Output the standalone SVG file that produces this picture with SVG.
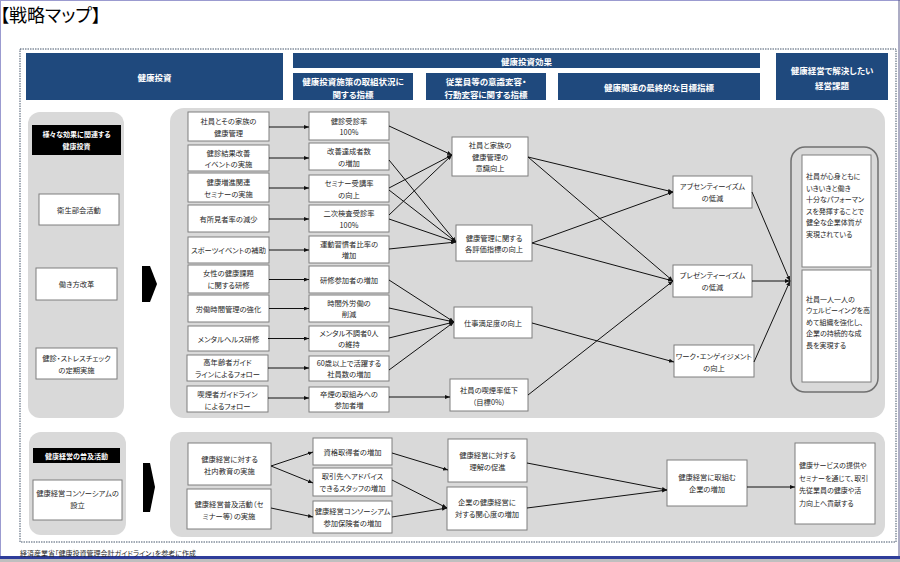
<svg xmlns="http://www.w3.org/2000/svg" width="900" height="562" viewBox="0 0 900 562">
<style>
text{font-family:"Noto Sans CJK JP","Noto Sans CJK SC",sans-serif;font-feature-settings:"palt";dominant-baseline:central}
.hdr{fill:#1f497d}
.ht{fill:#fff;font-size:8.5px;font-weight:bold;text-anchor:middle}
.panel{fill:#d9d9d9}
.box{fill:#fff;stroke:#7f7f7f;stroke-width:1}
.t{fill:#262626;font-size:7.3px;text-anchor:middle}
.tl{fill:#262626;font-size:7px;text-anchor:start}
.lbl{fill:#000}
.lt{fill:#fff;font-size:7px;font-weight:bold;text-anchor:middle}
.conn path{stroke:#111;stroke-width:1;fill:none;marker-end:url(#ah)}
</style>
<defs>
<marker id="ah" viewBox="0 0 5 4" markerWidth="5" markerHeight="4" refX="5" refY="2" orient="auto" markerUnits="userSpaceOnUse"><path d="M0,0 L5,2 L0,4 z" fill="#111"/></marker>
</defs>
<rect x="0" y="0" width="900" height="562" fill="#fff"/>
<line x1="0" y1="0.5" x2="900" y2="0.5" stroke="#9b9bd0"/>
<line x1="0.5" y1="0" x2="0.5" y2="556" stroke="#9b9bd0"/>
<line x1="899" y1="0" x2="899" y2="556" stroke="#5a5a8a"/>
<rect x="0" y="556" width="900" height="3" fill="#2e3d9a"/>
<rect x="0" y="559" width="900" height="3" fill="#bfbfbf"/>
<text x="0" y="14" style="font-size:18px;fill:#000">【戦略マップ】</text>
<rect x="20" y="49" width="876" height="493" fill="none" stroke="#44546a" stroke-width="1" stroke-dasharray="1.5 1"/>
<text x="20" y="553" class="tl" style="font-size:7px">経済産業省「健康投資管理会計ガイドライン」を参考に作成</text>

<g id="headers">
<rect class="hdr" x="26" y="53" width="257" height="47"/>
<text class="ht" x="154.5" y="76.5">健康投資</text>
<rect class="hdr" x="293" y="53" width="467" height="15"/>
<text class="ht" x="526.5" y="61">健康投資効果</text>
<rect class="hdr" x="293" y="73" width="120" height="27"/>
<text class="ht" x="353" y="81">健康投資施策の取組状況に</text>
<text class="ht" x="353" y="94">関する指標</text>
<rect class="hdr" x="426" y="73" width="120" height="27"/>
<text class="ht" x="486" y="81">従業員等の意識変容・</text>
<text class="ht" x="486" y="94">行動変容に関する指標</text>
<rect class="hdr" x="558" y="73" width="202" height="27"/>
<text class="ht" x="659" y="87">健康関連の最終的な目標指標</text>
<rect class="hdr" x="776" y="53" width="112" height="47"/>
<text class="ht" x="832" y="70">健康経営で解決したい</text>
<text class="ht" x="832" y="85">経営課題</text>
</g>

<g id="panels">
<rect class="panel" x="28" y="112" width="96" height="306" rx="12"/>
<rect class="panel" x="170" y="108" width="715" height="310" rx="14"/>
<rect class="panel" x="29" y="432" width="97" height="103" rx="12"/>
<rect class="panel" x="170" y="432" width="715" height="105" rx="12"/>
<polygon points="142,266 150,266 157,284 150,302 142,302" fill="#000"/>
<polygon points="143,463 150,463 155,487 150,512 143,512" fill="#000"/>
</g>

<g id="L0"><rect class="lbl" x="32" y="125" width="89" height="30"/><text class="lt" x="76.5" y="133.5">様々な効果に関連する</text><text class="lt" x="76.5" y="145.5">健康投資</text></g>
<g id="L1"><rect class="box" x="39" y="194" width="80" height="31"/><text class="t" x="79" y="209.5">衛生部会活動</text></g>
<g id="L2"><rect class="box" x="36" y="268" width="81" height="32"/><text class="t" x="76.5" y="284">働き方改革</text></g>
<g id="L3"><rect class="box" x="36" y="348" width="81" height="31"/><text class="t" x="76.5" y="358">健診・ストレスチェック</text><text class="t" x="76.5" y="369.5">の定期実施</text></g>

<g id="A1"><rect class="box" x="188" y="112" width="81" height="29"/><text class="t" x="228.5" y="121">社員とその家族の</text><text class="t" x="228.5" y="132.5">健康管理</text></g>
<g id="A2"><rect class="box" x="188" y="145" width="81" height="26"/><text class="t" x="228.5" y="152.5">健診結果改善</text><text class="t" x="228.5" y="164">イベントの実施</text></g>
<g id="A3"><rect class="box" x="188" y="173" width="81" height="29"/><text class="t" x="228.5" y="182">健康増進関連</text><text class="t" x="228.5" y="193.5">セミナーの実施</text></g>
<g id="A4"><rect class="box" x="188" y="205" width="81" height="27"/><text class="t" x="228.5" y="218.5">有所見者率の減少</text></g>
<g id="A5"><rect class="box" x="188" y="237" width="81" height="26"/><text class="t" x="228.5" y="250">スポーツイベントの補助</text></g>
<g id="A6"><rect class="box" x="188" y="265" width="81" height="28"/><text class="t" x="228.5" y="273">女性の健康課題</text><text class="t" x="228.5" y="284.5">に関する研修</text></g>
<g id="A7"><rect class="box" x="188" y="295" width="81" height="27"/><text class="t" x="228.5" y="308.5">労働時間管理の強化</text></g>
<g id="A8"><rect class="box" x="188" y="326" width="81" height="25"/><text class="t" x="228.5" y="338.5">メンタルヘルス研修</text></g>
<g id="A9"><rect class="box" x="187" y="355" width="81" height="26"/><text class="t" x="227.5" y="362">高年齢者ガイド</text><text class="t" x="227.5" y="374">ラインによるフォロー</text></g>
<g id="A10"><rect class="box" x="187" y="386" width="81" height="26"/><text class="t" x="227.5" y="393.5">喫煙者ガイドライン</text><text class="t" x="227.5" y="405.5">によるフォロー</text></g>

<g id="B1"><rect class="box" x="309" y="112" width="80" height="28"/><text class="t" x="349" y="121">健診受診率</text><text class="t" x="349" y="132">100%</text></g>
<g id="B2"><rect class="box" x="309" y="143" width="80" height="27"/><text class="t" x="349" y="150.5">改善達成者数</text><text class="t" x="349" y="162.5">の増加</text></g>
<g id="B3"><rect class="box" x="309" y="175" width="80" height="27"/><text class="t" x="349" y="183">セミナー受講率</text><text class="t" x="349" y="194.5">の向上</text></g>
<g id="B4"><rect class="box" x="309" y="205" width="80" height="27"/><text class="t" x="349" y="213">二次検査受診率</text><text class="t" x="349" y="224.5">100%</text></g>
<g id="B5"><rect class="box" x="309" y="236" width="80" height="27"/><text class="t" x="349" y="243.5">運動習慣者比率の</text><text class="t" x="349" y="255">増加</text></g>
<g id="B6"><rect class="box" x="309" y="266" width="80" height="27"/><text class="t" x="349" y="279.5">研修参加者の増加</text></g>
<g id="B7"><rect class="box" x="309" y="295" width="80" height="27"/><text class="t" x="349" y="303">時間外労働の</text><text class="t" x="349" y="314">削減</text></g>
<g id="B8"><rect class="box" x="309" y="326" width="80" height="25"/><text class="t" x="349" y="333">メンタル不調者0人</text><text class="t" x="349" y="344">の維持</text></g>
<g id="B9"><rect class="box" x="309" y="356" width="80" height="25"/><text class="t" x="349" y="362.5">60歳以上で活躍する</text><text class="t" x="349" y="374">社員数の増加</text></g>
<g id="B10"><rect class="box" x="309" y="387" width="80" height="25"/><text class="t" x="349" y="393.5">卒煙の取組みへの</text><text class="t" x="349" y="405">参加者増</text></g>

<g id="C1"><rect class="box" x="452" y="137" width="76" height="39"/><text class="t" x="490" y="145">社員と家族の</text><text class="t" x="490" y="156.5">健康管理の</text><text class="t" x="490" y="168">意識向上</text></g>
<g id="C2"><rect class="box" x="456" y="225" width="76" height="36"/><text class="t" x="494" y="237.5">健康管理に関する</text><text class="t" x="494" y="249">各評価指標の向上</text></g>
<g id="C3"><rect class="box" x="454" y="307" width="78" height="31"/><text class="t" x="493" y="322.5">仕事満足度の向上</text></g>
<g id="C4"><rect class="box" x="450" y="379" width="78" height="32"/><text class="t" x="489" y="390">社員の喫煙率低下</text><text class="t" x="489" y="402">（目標0%）</text></g>

<g id="D1"><rect class="box" x="673" y="176" width="79" height="32"/><text class="t" x="712.5" y="186">アブセンティーイズム</text><text class="t" x="712.5" y="198">の低減</text></g>
<g id="D2"><rect class="box" x="673" y="265" width="79" height="32"/><text class="t" x="712.5" y="275">プレゼンティーイズム</text><text class="t" x="712.5" y="287">の低減</text></g>
<g id="D3"><rect class="box" x="674" y="345" width="80" height="32"/><text class="t" x="714" y="356">ワーク・エンゲイジメント</text><text class="t" x="714" y="367.5">の向上</text></g>

<g id="E">
<rect x="791" y="147" width="87" height="245" rx="14" fill="#d9d9d9" stroke="#707070" stroke-width="1.5"/>
<g id="E1"><rect class="box" x="802" y="155" width="69" height="112"/>
<text class="tl" x="806" y="176">社員が心身ともに</text><text class="tl" x="806" y="187.6">いきいきと働き</text><text class="tl" x="806" y="199.2">十分なパフォーマン</text><text class="tl" x="806" y="210.8">スを発揮することで</text><text class="tl" x="806" y="222.4">健全な企業体質が</text><text class="tl" x="806" y="234">実現されている</text></g>
<g id="E2"><rect class="box" x="802" y="270" width="69" height="112"/>
<text class="tl" x="806" y="298.5">社員一人一人の</text><text class="tl" x="806" y="310">ウェルビーイングを高</text><text class="tl" x="806" y="321.5">めて組織を強化し、</text><text class="tl" x="806" y="333">企業の持続的な成</text><text class="tl" x="806" y="344.5">長を実現する</text></g>
</g>

<g id="L4"><rect class="lbl" x="33" y="448" width="87" height="15"/><text class="lt" x="76.5" y="455.5">健康経営の普及活動</text></g>
<g id="L5"><rect class="box" x="33" y="480" width="89" height="40"/><text class="t" x="77.5" y="493">健康経営コンソーシアムの</text><text class="t" x="77.5" y="505">設立</text></g>

<g id="F1"><rect class="box" x="188" y="443" width="83" height="42"/><text class="t" x="229.5" y="459">健康経営に対する</text><text class="t" x="229.5" y="470.5">社内教育の実施</text></g>
<g id="F2"><rect class="box" x="187" y="489" width="84" height="40"/><text class="t" x="229" y="504">健康経営普及活動（セ</text><text class="t" x="229" y="515.5">ミナー等）の実施</text></g>
<g id="G1"><rect class="box" x="313" y="438" width="79" height="27"/><text class="t" x="352.5" y="451.5">資格取得者の増加</text></g>
<g id="G2"><rect class="box" x="313" y="468" width="79" height="28"/><text class="t" x="352.5" y="476">取引先へアドバイス</text><text class="t" x="352.5" y="488">できるスタッフの増加</text></g>
<g id="G3"><rect class="box" x="313" y="501" width="79" height="32"/><text class="t" x="352.5" y="511">健康経営コンソーシアム</text><text class="t" x="352.5" y="522.5">参加保険者の増加</text></g>
<g id="H1"><rect class="box" x="448" y="439" width="79" height="43"/><text class="t" x="487.5" y="454.5">健康経営に対する</text><text class="t" x="487.5" y="466.5">理解の促進</text></g>
<g id="H2"><rect class="box" x="447" y="487" width="80" height="43"/><text class="t" x="487" y="502">企業の健康経営に</text><text class="t" x="487" y="514">対する関心度の増加</text></g>
<g id="I1"><rect class="box" x="667" y="460" width="80" height="46"/><text class="t" x="707" y="477">健康経営に取組む</text><text class="t" x="707" y="489">企業の増加</text></g>
<g id="J1"><rect class="box" x="795" y="443" width="80" height="81"/><text class="tl" x="799" y="465">健康サービスの提供や</text><text class="tl" x="799" y="477.5">セミナーを通じて、取引</text><text class="tl" x="799" y="490">先従業員の健康や活</text><text class="tl" x="799" y="502.5">力向上へ貢献する</text></g>

<g id="connectors" class="conn">
<path d="M269,127 H309"/>
<path d="M269,158 H309"/>
<path d="M269,188 H309"/>
<path d="M269,219 H309"/>
<path d="M269,250 H309"/>
<path d="M269,279.5 H309"/>
<path d="M269,308.5 H309"/>
<path d="M268,338.5 H309"/>
<path d="M268,368 H309"/>
<path d="M268,398 H309"/>
<path d="M389,126 L452,155"/>
<path d="M389,188 L452,155"/>
<path d="M389,215 L452,155"/>
<path d="M389,160 L456,242"/>
<path d="M389,190 L456,242"/>
<path d="M389,219 L456,242"/>
<path d="M389,249 L456,242"/>
<path d="M389,280 L454,322"/>
<path d="M389,308 L454,322"/>
<path d="M389,338 L454,322"/>
<path d="M389,370 L454,322"/>
<path d="M389,397 L450,397"/>
<path d="M528,157 L673,192"/>
<path d="M528,157 L673,281"/>
<path d="M532,243 L673,192"/>
<path d="M532,243 L673,281"/>
<path d="M532,323 L674,362"/>
<path d="M528,395 L673,281"/>
<path d="M752,192 L790,281"/>
<path d="M752,281 L790,281"/>
<path d="M754,362 L790,281"/>
<path d="M271,466 L313,452"/>
<path d="M271,466 L313,483"/>
<path d="M271,508 L313,517"/>
<path d="M392,453 L448,470"/>
<path d="M392,480 L447,508"/>
<path d="M392,517 L447,508"/>
<path d="M527,463 L667,490"/>
<path d="M527,508 L667,490"/>
<path d="M747,487 L795,487"/>
</g>
</svg>
